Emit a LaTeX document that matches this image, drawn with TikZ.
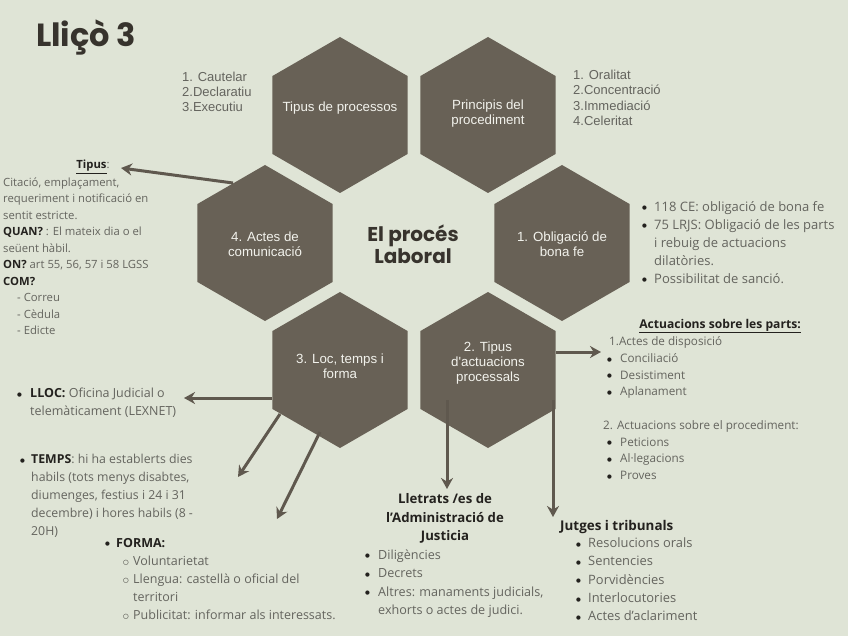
\documentclass[tikz,border=0pt]{standalone}
\usepackage{fontspec}
\setmainfont{Open Sans}
\newfontfamily\arial{Liberation Sans}
\newfontfamily\pop{Poppins}
\newfontfamily\dejavu{DejaVu Sans}
\usetikzlibrary{shapes.geometric,arrows.meta,calc}
\definecolor{bg}{RGB}{223,228,214}
\definecolor{hexc}{RGB}{104,97,86}
\definecolor{arrc}{RGB}{95,88,78}
\definecolor{txt}{RGB}{100,100,94}
\definecolor{dark}{RGB}{35,33,30}
\definecolor{titc}{RGB}{55,51,45}
\definecolor{hextxt}{RGB}{242,242,236}
\newcommand{\mybul}[1][12pt]{\makebox[#1][l]{\raisebox{1.4pt}{\textcolor{dark}{\dejavu\fontsize{5.5}{5.5}\selectfont ●}}}}
\newcommand{\mycirc}{\makebox[10pt][l]{\raisebox{1pt}{\textcolor{dark}{\dejavu\fontsize{6.5}{6.5}\selectfont ○}}}}
\begin{document}
\begin{tikzpicture}[x=1pt,y=-1pt,
  hexa/.style={regular polygon, regular polygon sides=6, shape border rotate=30, minimum size=156pt, inner sep=0pt, fill=hexc, draw=none},
  hext/.style={font=\arial\fontsize{13.3}{15}\selectfont, text=hextxt, align=center},
  arr/.style={draw=arrc, line width=3pt, -{Stealth[length=11pt,width=12pt]}},
  blk/.style={anchor=north west, inner sep=0pt, align=left, text=txt},
]
\fill[bg] (0,0) rectangle (848,636);
\useasboundingbox (0,0) rectangle (848,636);

% title
\node[font=\pop\bfseries\fontsize{32}{32}\selectfont, text=titc, anchor=west, inner sep=0pt] (title) at (36,37) {Lliçò 3};

% hexagons
\node[hexa] (h1) at (340,115) {};
\node[hexa] (h2) at (488,115) {};
\node[hexa] (h4) at (265,243) {};
\node[hexa] (h5) at (562,243) {};
\node[hexa] (h3) at (340,370) {};
\node[hexa] (h6) at (488,370) {};

\node[hext] (t1) at (340,108) {Tipus de processos};
\node[hext] (t2) at (488,114) {Principis del\\procediment};
\node[hext] (t4) at (265,244.5) {4. Actes de\\comunicació};
\node[hext] (t5) at (562,244.5) {1. Obligació de\\bona fe};
\node[hext] (t3) at (340,366.5) {3. Loc, temps i\\forma};
\node[hext] (t6) at (488,363) {2. Tipus\\d'actuacions\\processals};

\node[font=\pop\bfseries\fontsize{20}{22.5}\selectfont, text=titc, align=center] (ctr) at (413,244) {El procés\\Laboral};

% lists near top hexagons
\node[blk, font=\arial\fontsize{13}{15}\selectfont] (l1) at (182,70.5) {\strut 1. Cautelar\\2.Declaratiu\\3.Executiu};
\node[blk, font=\arial\fontsize{13}{15.3}\selectfont] (l2) at (573,68.5) {\strut 1. Oralitat\\2.Concentració\\3.Immediació\\4.Celeritat};

% left: actes de comunicació
\node[font=\fontsize{11.3}{13}\selectfont, text=txt, inner sep=0pt] (tip) at (93,167) {\textcolor{dark}{\textbf{\underline{Tipus}}}:};
\node[blk, font=\fontsize{11.3}{16.5}\selectfont] (comm) at (3,174.5) {\strut Citació, emplaçament,\\
requeriment i notificació en\\
sentit estricte.\\
\textcolor{dark}{\textbf{QUAN?}} : El mateix dia o el\\
seüent hàbil.\\
\textcolor{dark}{\textbf{ON?}} art 55, 56, 57 i 58 LGSS\\
\textcolor{dark}{\textbf{COM?}}\\
\hspace*{14pt}- Correu\\
\hspace*{14pt}- Cèdula\\
\hspace*{14pt}- Edicte};

% right: bona fe
\node[blk, font=\fontsize{13}{18}\selectfont] (bona) at (642,198.5) {\strut\mybul 118 CE: obligació de bona fe\\
\mybul 75 LRJS: Obligació de les parts\\
\hspace*{12pt}i rebuig de actuacions\\
\hspace*{12pt}dilatòries.\\
\mybul Possibilitat de sanció.};

% right: actuacions
\node[font=\bfseries\fontsize{12.1}{13}\selectfont, text=dark, inner sep=0pt] (acth) at (720,326) {\underline{Actuacions sobre les parts:}};
\node[blk, font=\fontsize{11.7}{16.7}\selectfont] (act) at (603,334) {\strut\hspace*{6pt}1.Actes de disposició\\
\hspace*{4pt}\mybul[13pt]Conciliació\\
\hspace*{4pt}\mybul[13pt]Desistiment\\
\hspace*{4pt}\mybul[13pt]Aplanament\\[16.7pt]
2. Actuacions sobre el procediment:\\
\hspace*{4pt}\mybul[13pt]Peticions\\
\hspace*{4pt}\mybul[13pt]Al·legacions\\
\hspace*{4pt}\mybul[13pt]Proves};

% bottom left: loc, temps, forma
\node[blk, font=\fontsize{12.5}{18.5}\selectfont] (lloc) at (17,384.3) {\strut\mybul[13pt]\textcolor{dark}{\textbf{LLOC:}} Oficina Judicial o\\
\hspace*{13pt}telemàticament (LEXNET)};
\node[blk, font=\fontsize{12.3}{18}\selectfont] (temps) at (20,450.6) {\strut\mybul[11pt]\textcolor{dark}{\textbf{TEMPS}}: hi ha establerts dies\\
\hspace*{11pt}habils (tots menys disabtes,\\
\hspace*{11pt}diumenges, festius i 24 i 31\\
\hspace*{11pt}decembre) i hores habils (8 -\\
\hspace*{11pt}20H)};
\node[blk, font=\fontsize{12.5}{18}\selectfont] (forma) at (105,534.5) {\strut\mybul[11pt]\textcolor{dark}{\textbf{FORMA:}}\\
\hspace*{18pt}\mycirc Voluntarietat\\
\hspace*{18pt}\mycirc Llengua: castellà o oficial del\\
\hspace*{28pt}territori\\
\hspace*{18pt}\mycirc Publicitat: informar als interessats.};

% bottom middle: lletrats
\node[font=\bfseries\fontsize{13.2}{18.5}\selectfont, text=dark, align=center] (letrh) at (445,518.5) {Lletrats /es de\\l'Administració de\\Justicia};
\node[blk, font=\fontsize{12.6}{18.5}\selectfont] (letr) at (365,546) {\strut\mybul[13pt]Diligències\\
\mybul[13pt]Decrets\\
\mybul[13pt]Altres: manaments judicials,\\
\hspace*{13pt}exhorts o actes de judici.};

% bottom right: jutges
\node[font=\bfseries\fontsize{13.4}{14}\selectfont, text=dark, anchor=west, inner sep=0pt] (jutgh) at (560,527) {Jutges i tribunals};
\node[blk, font=\fontsize{12.9}{18.3}\selectfont] (jutg) at (576,534.5) {\strut\mybul Resolucions orals\\
\mybul Sentencies\\
\mybul Porvidències\\
\mybul Interlocutories\\
\mybul Actes d'aclariment};

% arrows
\coordinate (e1) at (121,168);
\coordinate (e2) at (601,352);
\coordinate (e3) at (184,398);
\coordinate (e4) at (238,477);
\coordinate (e5) at (277,519);
\coordinate (e6) at (447,489);
\coordinate (e7) at (553,517);
\draw[arr] ($(h4)+(-32,-60)$) -- (e1);
\draw[arr] ($(h6)+(68,-18)$) -- (e2);
\draw[arr] ($(h3)+(-68,28)$) -- (e3);
\draw[arr] ($(h3)+(-60,44)$) -- (e4);
\draw[arr] ($(h3)+(-20,62)$) -- (e5);
\draw[arr] ($(h6)+(-41,30)$) -- (e6);
\draw[arr] ($(h6)+(65,30)$) -- (e7);
\end{tikzpicture}
\end{document}
